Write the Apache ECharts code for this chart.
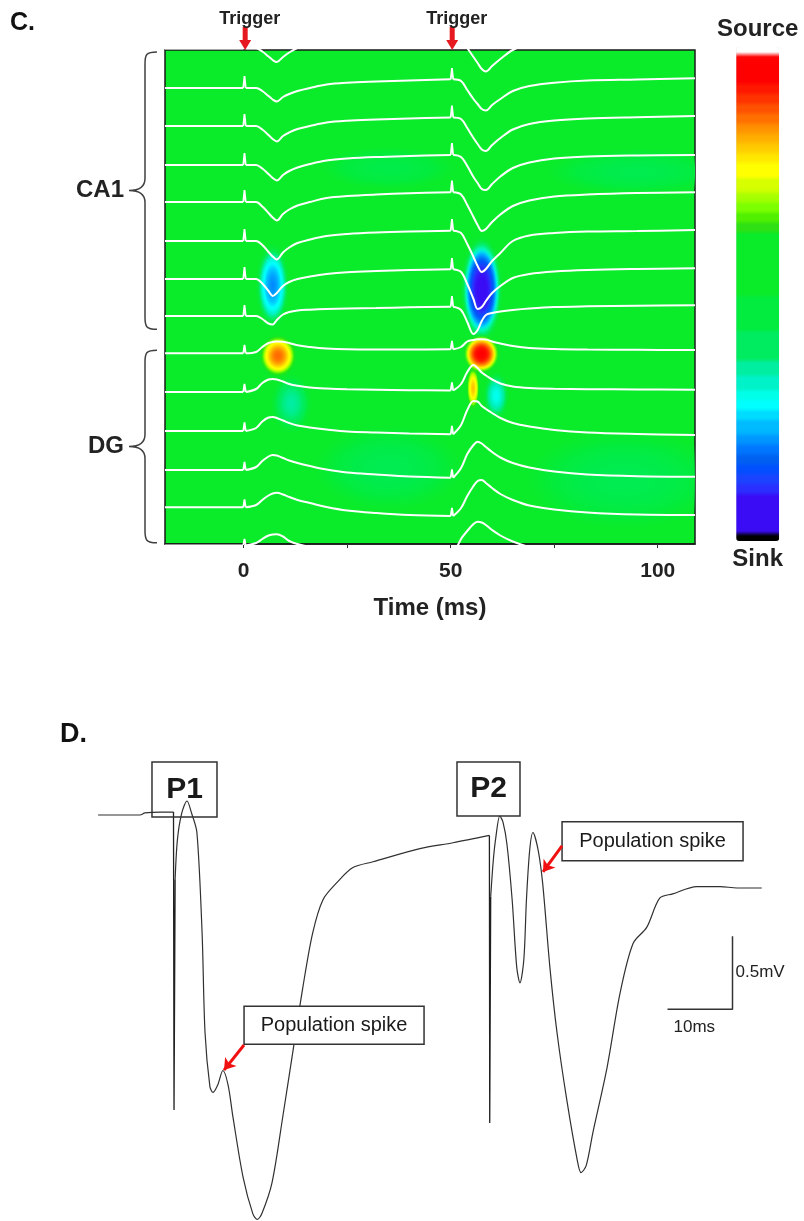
<!DOCTYPE html>
<html><head><meta charset="utf-8">
<script src="https://cdn.jsdelivr.net/npm/echarts@6/dist/echarts.min.js"></script>
<style>html,body{margin:0;padding:0;background:#fff}#c{width:804px;height:1221px}</style>
</head><body><div id="c"></div>
<script>
// ================= DATA =================
// Panel C: time base shared by all stacked traces (ms)
const traceTime = [-19, -0.1, 0.2, 0.5, 3, 4.5, 6, 7, 8, 9.5, 11, 13, 16, 20, 25, 32, 40, 50, 50.3, 50.6, 52.5, 54, 55.5, 56.5, 57.5, 58.5, 60, 62, 65, 69, 75, 83, 95, 109];
// Trace amplitudes (upward positive, arbitrary units) — CA1 channels 0..7
const ca1Traces = [
  [1.5, 1.5, 13, 1.5, 1.5, -1.5, -6.5, -10, -12, -7, -2.5, 2, 5, 8, 10, 11.5, 12.5, 13, 25, 13, 11, 2, -7, -13, -19, -21.5, -16, -9, 0, 6, 9.5, 11.5, 12.5, 13.5],
  [0, 0, 12, 0, 0, -3, -8, -11.5, -13.5, -9, -6, -3, 0, 3.5, 5.3, 6.5, 7.6, 8.7, 20, 8.7, 7, -2, -11, -16, -21, -22.5, -17, -11, -3, 2, 5.3, 7.5, 8.5, 9.7],
  [0, 0, 12, 0, 0, -3.5, -9, -13, -15.5, -10, -6.5, -3, 0, 3.5, 5.3, 6.5, 7.6, 8.5, 20.5, 8.5, 7, -2, -12, -18, -23.5, -25, -19, -12, -3.5, 2, 5.5, 7.5, 8.8, 10],
  [-1, -1, 11, -1, -1, -4.5, -10, -14, -16.5, -11, -7, -3.5, 0, 3.5, 5.5, 7, 8, 9, 21, 9, 7, -2, -13, -19, -25, -26, -20, -12.5, -4, 1.5, 5.5, 7.5, 8.5, 9],
  [0, 0, 12, 0, 0, -4.5, -11, -15.5, -18.5, -12, -7.5, -3.5, 0, 4, 6, 7.5, 8.7, 9.7, 21.5, 9.7, 7.5, -3, -15, -23, -29, -27, -20, -12.5, -4, 1.5, 5.5, 7.5, 9, 9.7],
  [-1, -1, 11, -1, -1, -5, -12, -16.5, -19.5, -12.5, -7.5, -3, 0.5, 4, 6, 7.5, 8.5, 9.3, 21, 9.3, 7, -4, -17, -26, -32, -29, -21, -13, -1, 4.5, 7, 8.5, 9, 10],
  [-1, -1, 11, -1, -1, -5.5, -13, -18, -15, -8, -4, -1, 1.5, 4, 5.8, 7, 8, 8.7, 20, 8.7, 6, -6, -21, -31, -29, -23, -15, -8, 0, 4, 6.5, 8, 9, 9.7],
  [0, 0, 11, 0, 0, -3, -7.5, -8.5, -4, 1.5, 4, 5.5, 6.3, 7, 7.5, 8, 8.7, 9.3, 20, 9.3, 6, -6, -18, -14, -5, 1, 3, 4.5, 6, 7.5, 9, 9.7, 10.3, 10.7]
];
// DG channels 8..13
const dgTraces = [
  [0.7, 0.7, 9, 0.7, 2, 7, 11, 12, 12.6, 12.3, 11, 8.7, 7, 5.5, 4.7, 4.5, 4.5, 4.7, 13, 4.7, 7, 12.5, 14, 14.7, 14.7, 14.5, 12.5, 10.5, 8, 6, 5, 4.5, 4.2, 4],
  [0, 0, 8, 0, 3, 9, 12.5, 13, 12.5, 10.5, 8, 6.2, 4.5, 3.5, 2.8, 2.3, 1.8, 1.5, 9.5, 1.5, 8, 20, 27, 24, 19.5, 16.5, 12.5, 8.5, 5.5, 4, 3.2, 2.8, 2.5, 2.3],
  [-1, -1, 7.5, -1, 2, 8.5, 12.5, 13, 12, 9.5, 7, 4.5, 2.5, 0.5, -1.5, -2.5, -3.5, -4.3, 4, -4.3, 5, 20, 29, 28.5, 24, 21, 17, 12, 7, 3.5, 0, -2.5, -4, -5],
  [-2, -2, 6, -2, 1, 7, 11.5, 13, 12.5, 10, 7.5, 5, 2, -1.5, -4.5, -6.5, -8.5, -9.7, -1.5, -9.7, 0, 14, 23, 26.3, 24.5, 21, 16, 10.5, 5, 0.5, -3.5, -6.5, -8.2, -8.7],
  [-1.3, -1.3, 6.5, -1.3, 1, 6, 10.5, 12.5, 13.3, 11.5, 9, 6, 3, -1, -4.5, -7, -9, -10, -2, -10, -2, 10, 20, 25, 26, 23, 18, 12, 6, 0.5, -3.5, -6.5, -8.5, -9],
  [-1.5, -1.5, 5, -1.5, 1, 5, 8.5, 9.5, 9.7, 7.5, 3, 0, -3, -6, -8, -10, -11, -12, -4, -12, 5, 13, 20, 22.3, 21.5, 19, 14, 8.5, 2.5, -3, -8, -10, -11, -11]
];
const triggerTimes = [0, 50];
const regionNames = ['CA1', 'DG'];
const regionBounds = [[0.05, 7.35], [7.9, 12.97]];
// CSD features: [time ms, channel, half-width ms, half-height channels, CSD value (-1 sink .. 1 source)]
const csdBlobs = [
  [95, 3.2, 22, 0.6, -0.14],
  [35, 3.1, 16, 0.55, -0.12],
  [35, 11, 18, 1.1, -0.15],
  [92, 11.3, 24, 1.3, -0.15],
  [11.5, 9.3, 5, 0.8, -0.3],
  [61, 9.1, 3.2, 0.65, -0.42],
  [7.0, 6.2, 4.2, 1.15, -0.6],
  [57.5, 6.3, 5.2, 1.45, -0.93],
  [55.4, 8.9, 1.8, 0.65, 0.6],
  [8.3, 8.05, 5.0, 0.62, 0.72],
  [57.4, 8.0, 4.8, 0.56, 0.92]
];
const xTickValues = [0, 25, 50, 75, 100];
const xLabelValues = [0, 50, 100];

// Panel D: field potential (ms, mV)
const dTime = [-11.6, -5.15, -4.4, -2, 0, 0.08, 0.25, 0.6, 1.25, 2.08, 2.8, 3.6, 4.4, 4.85, 5.6, 6.08, 6.8, 7.6, 8.4, 9.15, 10.7, 12.2, 12.9, 13.6, 15.15, 16.8, 18.4, 19.9, 21.4, 23.0, 25.2, 27.6, 30.7, 37.9, 43.0, 48.6, 48.65, 48.8, 49.2, 49.6, 50.2, 50.7, 51.3, 52.1, 52.8, 53.3, 53.9, 54.3, 54.8, 55.3, 56.1, 56.8, 57.9, 59.0, 60.5, 62.1, 62.7, 63.5, 64.5, 66.7, 68.7, 70.7, 72.8, 74.8, 76.8, 80.5, 84.1, 86.7, 90.5];
const dVolt = [0, 0, 0.014, 0.02, 0.02, -2.02, -0.44, -0.17, 0.01, 0.096, 0.01, -0.12, -0.81, -1.49, -1.86, -1.90, -1.85, -1.75, -1.85, -2.07, -2.48, -2.73, -2.77, -2.73, -2.52, -2.07, -1.61, -1.18, -0.81, -0.58, -0.46, -0.36, -0.32, -0.23, -0.19, -0.14, -2.11, -0.56, -0.31, -0.15, -0.007, -0.05, -0.2, -0.58, -1.04, -1.15, -0.99, -0.58, -0.24, -0.12, -0.24, -0.47, -1.04, -1.49, -1.95, -2.36, -2.45, -2.40, -2.18, -1.73, -1.22, -0.88, -0.77, -0.57, -0.54, -0.49, -0.49, -0.5, -0.5];
const dStimIndex = [4, 35];   // samples where the stimulus artefacts start (each 2 samples long)
const annotTexts = ['P1', 'P2', 'Population spike', 'Population spike'];
const annotAt = [[1.69, 0.175], [48.46, 0.178], [24.7, -1.44], [73.7, -0.18]];
const arrowFrom = [[10.85, -1.575], [59.77, -0.212]];
const arrowTo = [[7.77, -1.747], [56.85, -0.39]];
const scaleBar = [[76, -1.33], [86, -1.33], [86, -0.83]];
const scaleLabels = ['0.5mV', '10ms'];

// ================= STYLE / RENDER =================
const FONT = "'Liberation Sans', Arial, Helvetica, sans-serif";
const GAIN = 1 / 38;
const cXMin = -19, cXMax = 109;
const cStimIndex = [1, 17];  // artefact samples in traceTime (each 2 samples long)

const cbBands = [
  [-0.96, '#000000'], [-0.80, '#3a0cf5'], [-0.761, '#2a30ff'], [-0.725, '#1a44ff'],
  [-0.684, '#0050ff'], [-0.644, '#0062f0'], [-0.603, '#0078ff'], [-0.563, '#0099ff'],
  [-0.51, '#00bbff'], [-0.47, '#00dcff'], [-0.429, '#00ffff'], [-0.389, '#00ffe8'],
  [-0.328, '#00f2c8'], [-0.267, '#00eea0'], [-0.15, '#00ec60'], [-0.02, '#02ec40'],
  [0.247, '#0aeb2a'], [0.29, '#2ee014'], [0.33, '#50f000'], [0.38, '#7cff00'],
  [0.42, '#aaff00'], [0.47, '#d8ff00'], [0.535, '#ffff00'], [0.575, '#ffe400'],
  [0.615, '#ffc800'], [0.655, '#ffaa00'], [0.69, '#ff8c00'], [0.73, '#ff7000'],
  [0.77, '#ff5200'], [0.81, '#ff3300'], [0.85, '#ff1800'], [0.96, '#ff0000'], [1.0, '#ffffff']
];
function hexToRgb(h) { return [parseInt(h.slice(1,3),16), parseInt(h.slice(3,5),16), parseInt(h.slice(5,7),16)]; }
function bandColor(v) { for (const b of cbBands) { if (v <= b[0] + 1e-9) return b[1]; } return cbBands[cbBands.length-1][1]; }
// smooth ramp through band centres (without the black/white end caps)
const rampAnchors = [];
for (let i = 1; i < cbBands.length - 1; i++) rampAnchors.push([(cbBands[i-1][0] + cbBands[i][0]) / 2, hexToRgb(cbBands[i][1])]);
function rampRGB(v) {
  if (v <= rampAnchors[0][0]) return rampAnchors[0][1];
  for (let i = 1; i < rampAnchors.length; i++) {
    if (v <= rampAnchors[i][0]) {
      const a = rampAnchors[i-1], b = rampAnchors[i];
      const f = (v - a[0]) / (b[0] - a[0]);
      return [0,1,2].map(k => Math.round(a[1][k] + (b[1][k] - a[1][k]) * f));
    }
  }
  return rampAnchors[rampAnchors.length-1][1];
}
const vmColors = [];
for (let k = 0; k < 250; k++) vmColors.push(bandColor(-1 + 2 * k / 249));

function blobRender(params, api) {
  const c = api.coord([api.value(0), api.value(1)]);
  const sz = api.size([api.value(2), api.value(3)]);
  const v = api.value(4);
  const stops = [];
  for (let i = 0; i <= 20; i++) {
    const s = i / 20;
    const val = v * (1 - s * s);
    const rgb = rampRGB(val);
    const a = s <= 0.65 ? 1 : Math.max(0, (1 - s) / 0.35);
    stops.push({ offset: s, color: 'rgba(' + rgb[0] + ',' + rgb[1] + ',' + rgb[2] + ',' + a.toFixed(3) + ')' });
  }
  return { type: 'circle', shape: { cx: 0, cy: 0, r: 1 }, x: c[0], y: c[1], scaleX: sz[0], scaleY: sz[1],
    style: { fill: { type: 'radial', x: 0.5, y: 0.5, r: 0.5, colorStops: stops, global: false } }, silent: true };
}

function braceRender(params, api) {
  const p0 = api.coord([cXMin, api.value(0)]), p1 = api.coord([cXMin, api.value(1)]);
  const gx = p0[0], y0 = p0[1], y1 = p1[1], ym = (y0 + y1) / 2;
  const xv = gx - 20, xc = gx - 8, xt = gx - 36;
  const d = 'M' + xc + ' ' + y0 + ' C' + (xv + 1) + ' ' + y0 + ' ' + xv + ' ' + (y0 + 3) + ' ' + xv + ' ' + (y0 + 12) +
    ' L' + xv + ' ' + (ym - 12) + ' C' + xv + ' ' + (ym - 3) + ' ' + (xv - 6) + ' ' + ym + ' ' + xt + ' ' + ym +
    ' C' + (xv - 6) + ' ' + ym + ' ' + xv + ' ' + (ym + 3) + ' ' + xv + ' ' + (ym + 12) +
    ' L' + xv + ' ' + (y1 - 12) + ' C' + xv + ' ' + (y1 - 3) + ' ' + (xv + 1) + ' ' + y1 + ' ' + xc + ' ' + y1;
  return { type: 'group', children: [
    { type: 'path', shape: { pathData: d }, style: { stroke: '#404040', lineWidth: 1.5, fill: null } },
    { type: 'text', x: xt - 5, y: ym, style: { text: regionNames[params.dataIndex], font: 'bold 24px ' + FONT, fill: '#222', align: 'right', verticalAlign: 'middle' } }
  ] };
}

function triggerRender(params, api) {
  const p = api.coord([api.value(0), 0]);
  const x = p[0] + 1.5, y = p[1];
  return { type: 'group', children: [
    { type: 'polygon', shape: { points: [[x-2.5,y-23],[x+2.5,y-23],[x+2.5,y-10],[x+6,y-10],[x,y],[x-6,y-10],[x-2.5,y-10]] }, style: { fill: '#e5191f' } },
    { type: 'text', x: x + 4.5, y: y - 31, style: { text: 'Trigger', font: 'bold 18px ' + FONT, fill: '#222', align: 'center', verticalAlign: 'middle' } }
  ] };
}

const annotStyle = [
  { w: 65, h: 55, font: 'bold 30px ' + FONT, fill: 'rgba(0,0,0,0)' },
  { w: 63, h: 54, font: 'bold 30px ' + FONT, fill: 'rgba(0,0,0,0)' },
  { w: 180, h: 38, font: '20px ' + FONT, fill: '#ffffff' },
  { w: 181, h: 39, font: '20px ' + FONT, fill: '#ffffff' }
];
function annotRender(params, api) {
  const i = params.dataIndex, st = annotStyle[i];
  const p = api.coord([api.value(0), api.value(1)]);
  return { type: 'group', children: [
    { type: 'rect', shape: { x: p[0] - st.w / 2, y: p[1] - st.h / 2, width: st.w, height: st.h }, style: { fill: st.fill, stroke: '#333', lineWidth: 1.5 } },
    { type: 'text', x: p[0], y: p[1], style: { text: annotTexts[i], font: st.font, fill: '#1a1a1a', align: 'center', verticalAlign: 'middle' } }
  ] };
}
function scaleLabelRender(params, api) {
  const vMid = api.coord([scaleBar[2][0], (scaleBar[1][1] + scaleBar[2][1]) / 2]);
  const hStart = api.coord([scaleBar[0][0], scaleBar[0][1]]);
  return { type: 'group', children: [
    { type: 'text', x: vMid[0] + 3, y: vMid[1], style: { text: scaleLabels[0], font: '17px ' + FONT, fill: '#222', align: 'left', verticalAlign: 'middle' } },
    { type: 'text', x: hStart[0] + 6, y: hStart[1] + 18, style: { text: scaleLabels[1], font: '17px ' + FONT, fill: '#222', align: 'left', verticalAlign: 'middle' } }
  ] };
}

// split a sampled trace into straight stimulus-artefact pieces and smoothed response pieces
function splitTrace(points, stimIdx) {
  const straight = [], smooth = [];
  let prev = 0;
  stimIdx.forEach((s) => {
    for (let i = prev; i <= s; i++) smooth.push(points[i]);
    smooth.push(null);
    for (let i = s; i <= s + 2; i++) straight.push(points[i]);
    straight.push(null);
    prev = s + 2;
  });
  for (let i = prev; i < points.length; i++) smooth.push(points[i]);
  return { straight, smooth };
}

const allTraces = ca1Traces.concat(dgTraces);
const series = [];
series.push({ type: 'custom', name: 'csd', xAxisIndex: 0, yAxisIndex: 0, data: csdBlobs, renderItem: blobRender, clip: true, z: 1, silent: true,
  encode: { x: 0, y: 1 } });
allTraces.forEach((amps, ch) => {
  const pts = amps.map((a, i) => [traceTime[i], ch - a * GAIN]);
  const parts = splitTrace(pts, cStimIndex);
  series.push({ type: 'line', xAxisIndex: 0, yAxisIndex: 0, data: parts.smooth, smooth: 0.35, connectNulls: false,
    showSymbol: false, symbol: 'none', lineStyle: { color: '#ffffff', width: 2 }, clip: true, silent: true, z: 3 });
  series.push({ type: 'line', xAxisIndex: 0, yAxisIndex: 0, data: parts.straight, connectNulls: false,
    showSymbol: false, symbol: 'none', lineStyle: { color: '#ffffff', width: 1.8 }, clip: true, silent: true, z: 3 });
});
series.push({ type: 'custom', xAxisIndex: 0, yAxisIndex: 0, data: regionBounds, renderItem: braceRender, clip: false, silent: true, z: 4 });
series.push({ type: 'custom', xAxisIndex: 0, yAxisIndex: 0, data: triggerTimes.map(t => [t, 0]), renderItem: triggerRender, clip: false, silent: true, z: 4 });
const dPts = dTime.map((t, i) => [t, dVolt[i]]);
const dParts = splitTrace(dPts, dStimIndex);
series.push({ type: 'line', xAxisIndex: 1, yAxisIndex: 1, data: dParts.smooth, smooth: 0.3, connectNulls: false, showSymbol: false, symbol: 'none',
  lineStyle: { color: '#303030', width: 1.2 }, clip: false, silent: true, z: 3 });
series.push({ type: 'line', xAxisIndex: 1, yAxisIndex: 1, data: dParts.straight, connectNulls: false, showSymbol: false, symbol: 'none',
  lineStyle: { color: '#202020', width: 1.3 }, clip: false, silent: true, z: 3 });
series.push({ type: 'line', xAxisIndex: 1, yAxisIndex: 1, data: scaleBar, showSymbol: false, symbol: 'none',
  lineStyle: { color: '#333', width: 1.5 }, clip: false, silent: true, z: 3 });
series.push({ type: 'custom', xAxisIndex: 1, yAxisIndex: 1, data: [scaleBar[1]], renderItem: scaleLabelRender, clip: false, silent: true, z: 5 });
series.push({ type: 'custom', xAxisIndex: 1, yAxisIndex: 1, data: annotAt, renderItem: annotRender, clip: false, silent: true, z: 5 });
series.push({ type: 'lines', coordinateSystem: 'cartesian2d', xAxisIndex: 1, yAxisIndex: 1, polyline: false,
  data: arrowFrom.map((f, i) => ({ coords: [f, arrowTo[i]] })), symbol: ['none', 'arrow'], symbolSize: 11,
  lineStyle: { color: '#f01010', width: 3, opacity: 1, curveness: 0 }, silent: true, z: 6, clip: false });

const chart = echarts.init(document.getElementById('c'), null, { renderer: 'canvas' });
chart.setOption({
  animation: false,
  backgroundColor: '#ffffff',
  title: [
    { text: 'C.', left: 10, top: 11, padding: 0, textStyle: { fontSize: 25, fontWeight: 'bold', color: '#111', fontFamily: FONT } },
    { text: 'D.', left: 60, top: 721, padding: 0, textStyle: { fontSize: 27, fontWeight: 'bold', color: '#111', fontFamily: FONT } }
  ],
  grid: [
    { left: 165, top: 50, width: 530, height: 494, show: true, backgroundColor: bandColor(0), borderColor: '#1a1a1a', borderWidth: 1.5, containLabel: false, outerBoundsMode: 'none' },
    { left: 95.5, top: 742, width: 676, height: 481.8, show: false, containLabel: false, outerBoundsMode: 'none' }
  ],
  xAxis: [
    { gridIndex: 0, type: 'value', min: cXMin, max: cXMax,
      axisLine: { show: true, onZero: false, lineStyle: { color: '#1a1a1a', width: 1.5 } },
      axisTick: { show: true, customValues: xTickValues, length: 4, lineStyle: { color: '#333' } },
      axisLabel: { show: true, customValues: xLabelValues, fontSize: 21, fontWeight: 'bold', color: '#222', margin: 17, fontFamily: FONT },
      splitLine: { show: false },
      name: 'Time (ms)', nameLocation: 'middle', nameGap: 52,
      nameTextStyle: { fontSize: 24, fontWeight: 'bold', color: '#222', fontFamily: FONT } },
    { gridIndex: 1, type: 'value', min: -12, max: 92, show: false }
  ],
  yAxis: [
    { gridIndex: 0, type: 'value', inverse: true, min: 0, max: 13, show: false },
    { gridIndex: 1, type: 'value', min: -2.8, max: 0.5, show: false }
  ],
  visualMap: {
    type: 'continuous', seriesIndex: 0, dimension: 4, min: -1, max: 1, orient: 'vertical',
    left: 717, top: 17, itemWidth: 43, itemHeight: 494, text: ['Source', 'Sink'], textGap: 6, padding: 0,
    calculable: false, hoverLink: false, inRange: { color: vmColors },
    textStyle: { fontSize: 24, fontWeight: 'bold', color: '#222', fontFamily: FONT }
  },
  series: series
});
</script>
</body></html>
